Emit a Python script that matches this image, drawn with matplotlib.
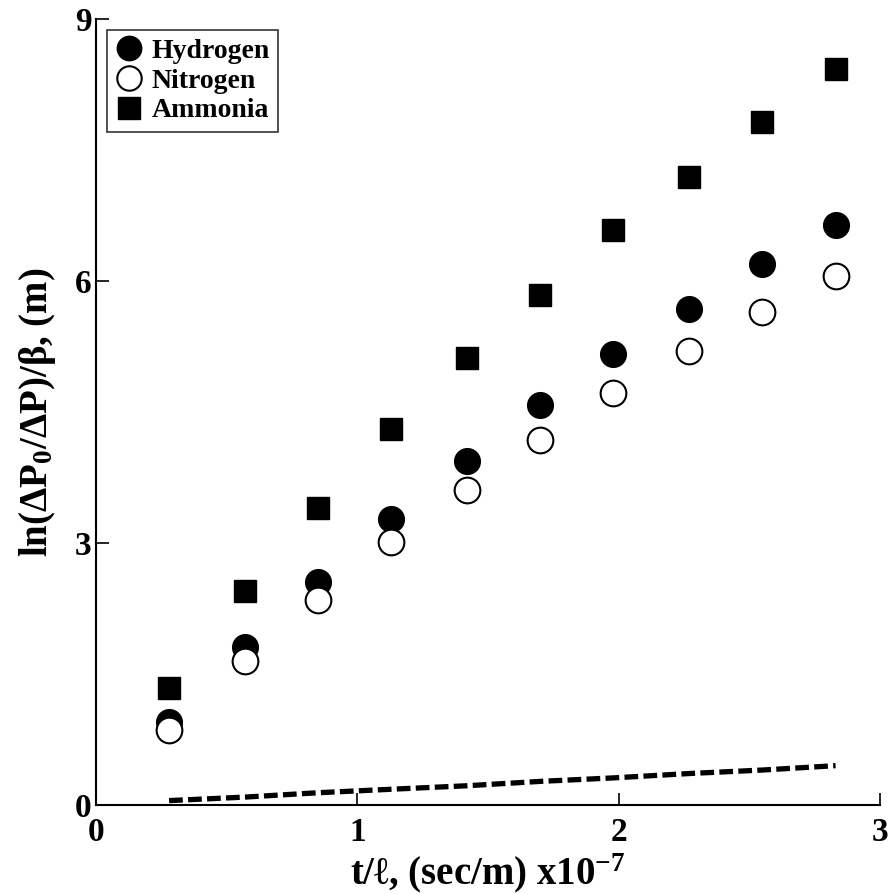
import matplotlib
matplotlib.use("Agg")
import matplotlib.pyplot as plt

plt.rcParams['font.family'] = ['Liberation Serif', 'DejaVu Serif']
plt.rcParams['font.weight'] = 'bold'
plt.rcParams['mathtext.fontset'] = 'custom'
plt.rcParams['mathtext.rm'] = 'Liberation Serif:bold'
plt.rcParams['mathtext.it'] = 'Liberation Serif:bold'
plt.rcParams['mathtext.bf'] = 'Liberation Serif:bold'

t = [0.28, 0.57, 0.85, 1.13, 1.42, 1.70, 1.98, 2.27, 2.55, 2.83]
hydrogen = [0.95, 1.81, 2.55, 3.27, 3.94, 4.58, 5.17, 5.68, 6.20, 6.64]
nitrogen = [0.86, 1.65, 2.35, 3.01, 3.61, 4.18, 4.72, 5.20, 5.65, 6.06]
ammonia = [1.34, 2.45, 3.40, 4.31, 5.12, 5.84, 6.58, 7.19, 7.82, 8.43]
model = [0.05, 0.09, 0.14, 0.18, 0.22, 0.27, 0.31, 0.36, 0.40, 0.45]

fig = plt.figure(figsize=(8.88, 8.94), dpi=100)
ax = fig.add_axes([0.108, 0.0996, 0.883, 0.879])

ax.plot(t, hydrogen, 'o', color='black', markersize=18.5, label='Hydrogen')
ax.plot(t, nitrogen, 'o', markerfacecolor='white', markeredgecolor='black',
        markeredgewidth=1.5, markersize=18.5, label='Nitrogen')
ax.plot(t, ammonia, 's', color='black', markersize=16, label='Ammonia')
ax.plot(t, model, '--', color='black', linewidth=3.8, dashes=(2.6, 1.0))

ax.set_xlim(0, 3)
ax.set_ylim(0, 9)
ax.set_xticks([0, 1, 2, 3])
ax.set_yticks([0, 3, 6, 9])
ax.spines['top'].set_visible(False)
ax.spines['right'].set_visible(False)
for s in ['left', 'bottom']:
    ax.spines[s].set_linewidth(1.5)
ax.tick_params(direction='in', length=9, width=1.2, labelsize=24)
ax.tick_params(axis='x', pad=9)
ax.tick_params(axis='y', pad=3)

ax.set_xlabel('t/ℓ, (sec/m) x10$^{-7}$', fontsize=28, fontweight='bold', labelpad=2)
ax.set_ylabel('ln(ΔP$_0$/ΔP)/β, (m)', fontsize=28, fontweight='bold', labelpad=12)

leg = ax.legend(loc='upper left', bbox_to_anchor=(0.0, 1.0), borderaxespad=0.4,
                fontsize=20, frameon=True, fancybox=False, edgecolor='black',
                handletextpad=0.3, borderpad=0.3, labelspacing=0.15,
                handlelength=1.0, markerscale=0.95)
leg.get_frame().set_linewidth(1.2)

fig.savefig('out.png', dpi=100)
